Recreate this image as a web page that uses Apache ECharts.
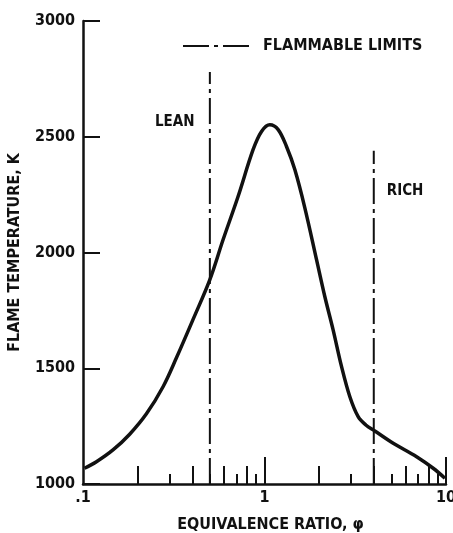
<!DOCTYPE html>
<html>
<head>
<meta charset="utf-8">
<script src="https://cdn.jsdelivr.net/npm/echarts@6/dist/echarts.min.js"></script>
<style>html,body{margin:0;padding:0;background:#fff}#c{width:453px;height:533px}</style>
</head>
<body>
<div id="c"></div>
<script>
// Flame temperature curve (equivalence ratio, K)
var curvePhi  = [0.102, 0.1186, 0.1463, 0.1808, 0.2236, 0.2761, 0.3272, 0.4041, 0.4994, 0.5911, 0.7151, 0.865, 0.963, 1.07, 1.189, 1.322, 1.469, 1.668, 1.935, 2.149, 2.388, 2.658, 2.953, 3.281, 3.617, 4.055, 5.117, 6.887, 8.5, 9.86];
var curveTemp = [1068, 1096, 1147, 1215, 1303, 1420, 1545, 1711, 1882, 2055, 2242, 2444, 2523, 2552, 2531, 2458, 2358, 2193, 1969, 1810, 1666, 1507, 1377, 1291, 1255, 1229, 1176, 1118, 1068, 1025];
// Flammable limits (vertical lines)
var leanPhi = 0.5,  leanTop = 2780;
var richPhi = 4.0,  richTop = 2440;
// Axis ticks and labels
var xMajorTicks = [1, 10];
var xEvenTicks = [0.2, 0.4, 0.6, 0.8, 2, 4, 6, 8];
var xOddTicks = [0.3, 0.5, 0.7, 0.9, 3, 5, 7, 9];
var xLabelValues = [0.1, 1, 10];
var xLabelText = ['.1', '1', '10'];
var yTicks = [1000, 1500, 2000, 2500, 3000];

var FONT = "'Liberation Sans Narrow', 'DejaVu Sans Condensed', 'Roboto Condensed', sans-serif";
var INK = '#111';
var dash = [26, 5, 4, 5];

var curve = curvePhi.map(function (p, i) { return [p, curveTemp[i]]; });

function xAxisBase(ticks, len, showLine, showLabel) {
  return {
    type: 'log', logBase: 10, min: 0.1, max: 10, position: 'bottom',
    axisLine: { show: showLine, onZero: false, lineStyle: { color: INK, width: 2.5 } },
    axisTick: { show: true, inside: true, length: len, customValues: ticks, lineStyle: { color: INK, width: 2 } },
    axisLabel: showLabel ? {
      show: true, customValues: xLabelValues, color: INK, fontFamily: FONT, fontWeight: 'bold', fontSize: 16, margin: 6,
      formatter: function (v) {
        for (var i = 0; i < xLabelValues.length; i++) { if (Math.abs(v - xLabelValues[i]) < 1e-9) return xLabelText[i]; }
        return '';
      }
    } : { show: false },
    splitLine: { show: false },
    minorTick: { show: false }
  };
}

var xa0 = xAxisBase(xMajorTicks, 27, true, true);
xa0.name = 'EQUIVALENCE RATIO, \u03C6';
xa0.nameLocation = 'middle';
xa0.nameGap = 33;
xa0.nameTextStyle = { color: INK, fontFamily: FONT, fontWeight: 'bold', fontSize: 16, padding: [0, 0, 0, 12] };

var option = {
  animation: false,
  backgroundColor: '#fff',
  grid: { left: 83, right: 7, top: 21, bottom: 49, outerBoundsMode: 'none', containLabel: false },
  legend: {
    left: 182, top: 38, padding: 0,
    itemWidth: 66, itemHeight: 16, itemGap: 10,
    data: ['FLAMMABLE LIMITS'],
    itemStyle: { opacity: 0 },
    lineStyle: { color: INK, width: 2, type: dash },
    textStyle: { color: INK, fontFamily: FONT, fontWeight: 'bold', fontSize: 16, padding: [0, 0, 0, 9] }
  },
  xAxis: [
    xa0,
    xAxisBase(xEvenTicks, 18, false, false),
    xAxisBase(xOddTicks, 10, false, false)
  ],
  yAxis: {
    type: 'value', min: 1000, max: 3000, interval: 500,
    name: 'FLAME TEMPERATURE, K', nameLocation: 'middle', nameGap: 60,
    nameTextStyle: { color: INK, fontFamily: FONT, fontWeight: 'bold', fontSize: 16 },
    axisLine: { show: true, lineStyle: { color: INK, width: 2.5 } },
    axisTick: { show: true, inside: true, length: 17, customValues: yTicks, lineStyle: { color: INK, width: 2 } },
    axisLabel: {
      color: INK, fontFamily: FONT, fontWeight: 'bold', fontSize: 16, margin: 8, customValues: yTicks,
      formatter: function (v) { return String(v); }
    },
    splitLine: { show: false }
  },
  series: [
    {
      type: 'line', name: 'curve', xAxisIndex: 0, data: curve, smooth: 0.35, symbol: 'none',
      lineStyle: { color: INK, width: 3.5 }, z: 3
    },
    {
      type: 'line', name: 'FLAMMABLE LIMITS', xAxisIndex: 0, symbol: 'none',
      data: [[leanPhi, 1000], [leanPhi, leanTop]],
      itemStyle: { color: INK },
      lineStyle: { color: INK, width: 2, type: dash },
      markPoint: {
        symbol: 'circle', symbolSize: 0,
        label: { show: true, formatter: 'LEAN', color: INK, fontFamily: FONT, fontWeight: 'bold', fontSize: 15 },
        data: [{ coord: [0.32, 2565], value: 'LEAN' }]
      }
    },
    {
      type: 'line', name: 'FLAMMABLE LIMITS', xAxisIndex: 0, symbol: 'none',
      data: [[richPhi, 1000], [richPhi, richTop]],
      itemStyle: { color: INK },
      lineStyle: { color: INK, width: 2, type: dash },
      markPoint: {
        symbol: 'circle', symbolSize: 0,
        label: { show: true, formatter: 'RICH', color: INK, fontFamily: FONT, fontWeight: 'bold', fontSize: 15 },
        data: [{ coord: [5.95, 2267], value: 'RICH' }]
      }
    }
  ]
};

var chart = echarts.init(document.getElementById('c'), null, { renderer: 'canvas' });
chart.setOption(option);
</script>
</body>
</html>
